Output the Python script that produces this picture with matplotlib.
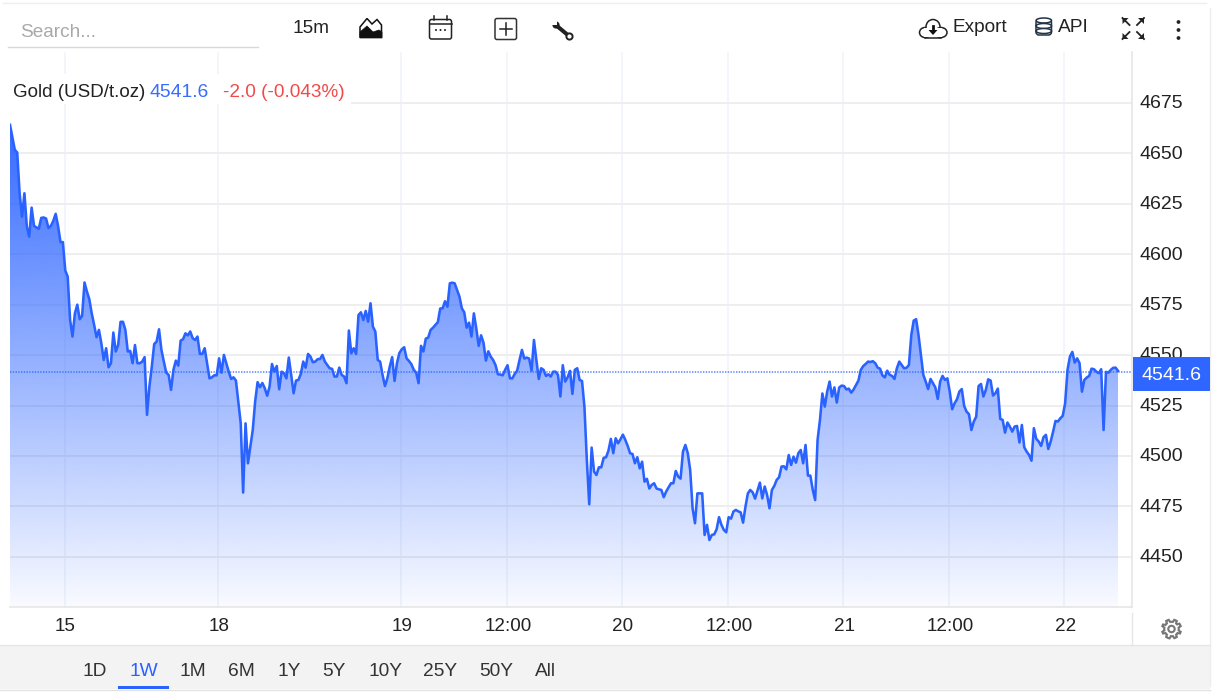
import numpy as np
import matplotlib
matplotlib.use("Agg")
import matplotlib.pyplot as plt
from matplotlib.patches import Rectangle, FancyBboxPatch, Circle, Ellipse, Polygon
from matplotlib.lines import Line2D
from matplotlib.transforms import ScaledTranslation

plt.rcParams['font.family'] = ['Liberation Sans', 'DejaVu Sans']

# ---- data -------------------------------------------------------------
prices = [
 4664.1,4658.0,4651.7,4650.4,4630.2,4618.6,4630.2,4613.7,4608.7,4623.1,
 4614.0,4613.3,4612.7,4618.0,4618.2,4617.7,4613.0,4614.0,4616.5,4620.0,
 4614.0,4606.0,4606.0,4591.9,4588.9,4567.4,4559.2,4570.7,4575.0,4567.8,
 4569.4,4586.0,4581.5,4577.7,4570.7,4565.0,4558.9,4562.5,4555.9,4547.6,
 4553.4,4544.0,4546.0,4561.2,4551.8,4555.0,4566.5,4566.5,4562.5,4551.8,
 4552.1,4546.0,4555.0,4546.0,4546.0,4546.8,4549.0,4520.4,4534.4,4544.3,
 4555.5,4556.7,4562.8,4552.6,4546.8,4541.3,4540.2,4532.8,4542.7,4547.3,
 4544.8,4557.2,4557.9,4560.8,4559.8,4561.7,4558.4,4557.5,4559.2,4550.6,
 4550.6,4553.4,4546.0,4538.5,4539.0,4540.0,4540.0,4548.4,4541.3,4550.1,
 4546.0,4541.8,4538.2,4539.0,4537.4,4527.0,4516.2,4481.9,4516.2,4496.4,
 4504.7,4512.9,4527.0,4536.6,4534.1,4536.2,4533.6,4529.9,4534.4,4545.6,
 4541.8,4544.6,4533.1,4541.8,4541.0,4538.5,4548.8,4540.2,4531.1,4537.4,
 4537.7,4540.7,4546.8,4543.8,4550.6,4549.3,4546.5,4546.8,4548.0,4548.1,
 4550.1,4546.8,4545.1,4543.5,4543.2,4539.4,4539.4,4543.8,4540.2,4539.4,
 4536.1,4562.2,4550.9,4553.4,4550.6,4569.9,4571.2,4567.4,4571.9,4566.6,
 4575.7,4564.1,4561.7,4547.6,4546.8,4540.2,4534.7,4538.5,4544.3,4549.0,
 4537.2,4546.0,4551.0,4552.9,4553.9,4548.4,4547.1,4545.5,4542.7,4541.3,
 4536.1,4554.6,4551.8,4558.2,4558.7,4562.5,4563.6,4565.0,4566.3,4573.1,
 4573.2,4576.7,4574.0,4585.6,4585.9,4585.6,4582.3,4579.0,4573.2,4571.2,
 4563.6,4566.1,4559.2,4570.7,4563.3,4554.6,4559.8,4556.2,4547.3,4551.9,
 4549.3,4547.6,4545.1,4540.5,4540.4,4540.0,4542.7,4545.0,4538.5,4538.5,
 4540.7,4542.3,4547.6,4552.6,4548.3,4548.8,4548.3,4542.3,4557.5,4547.6,
 4538.2,4543.5,4542.7,4539.7,4540.5,4539.4,4541.8,4541.8,4540.2,4529.5,
 4545.0,4536.9,4539.0,4542.2,4530.8,4542.7,4543.5,4537.7,4537.2,4524.5,
 4498.0,4476.1,4504.2,4492.3,4490.6,4494.4,4494.4,4499.1,4499.4,
 4502.7,4508.5,4501.4,4508.8,4506.3,4508.3,4510.6,4508.0,4505.0,4501.4,
 4501.0,4496.4,4499.4,4493.9,4497.2,4487.3,4488.7,4483.9,4485.7,4486.5,
 4483.9,4483.5,4483.2,4479.6,4482.4,4484.5,4486.5,4486.5,4492.6,4489.8,
 4488.8,4502.2,4505.5,4501.4,4493.1,4474.1,4466.7,4481.5,4481.5,4481.5,
 4460.9,4465.9,4458.4,4460.9,4461.2,4463.7,4469.7,4465.9,4463.4,4462.2,
 4469.7,4469.0,4472.5,4473.3,4472.6,4472.1,4467.0,4474.9,4481.5,4483.2,
 4482.0,4478.9,4482.9,4486.8,4479.0,4484.9,4480.7,4474.1,4483.2,4485.2,
 4488.2,4489.5,4494.8,4494.9,4493.4,4500.5,4495.6,4499.7,4496.7,4501.4,4503.0,
 4496.4,4505.5,4490.3,4490.3,4483.2,4478.2,4508.0,4517.9,4531.0,4524.5,
 4531.9,4536.9,4529.5,4534.0,4526.5,4534.0,4534.9,4534.7,4533.0,4533.4,
 4531.4,4533.0,4535.2,4537.4,4542.7,4544.6,4545.6,4546.8,4546.6,4547.0,
 4546.0,4543.8,4543.3,4539.9,4539.0,4542.3,4540.2,4539.7,4538.2,4543.5,
 4546.8,4545.1,4543.5,4543.7,4545.1,4560.0,4567.1,4567.8,4560.0,4550.1,
 4540.2,4536.9,4533.2,4538.2,4536.1,4534.0,4528.3,4536.9,4539.7,4537.7,
 4538.5,4531.9,4523.2,4526.1,4528.1,4531.9,4533.2,4524.8,4522.0,4520.7,
 4512.9,4517.1,4519.5,4534.7,4535.7,4529.5,4532.8,4538.0,4537.4,4530.0,
 4531.1,4533.4,4518.4,4517.9,4511.6,4516.6,4514.6,4512.1,4514.6,4514.9,
 4506.7,4515.4,4504.3,4502.2,4500.5,4497.7,4513.8,4508.5,4507.2,4505.0,
 4509.3,4510.5,4503.5,4507.2,4512.1,4517.4,4517.1,4518.7,4519.9,4526.1,
 4542.7,4549.3,4551.6,4546.3,4548.4,4546.0,4531.9,4537.7,4538.9,4539.7,
 4543.3,4543.0,4541.8,4541.0,4543.0,4512.9,4541.7,4541.3,4542.7,4543.7,
 4543.8,4542.2,
]
last_price = 4541.6
change_text = "-2.0 (-0.043%)"
y_ticks = [4450, 4475, 4500, 4525, 4550, 4575, 4600, 4625, 4650, 4675]
x_tick_bars = [22.7, 86.7, 162.7, 206.8, 254.6, 298.7, 346.6, 390.7, 438.7]
x_tick_labels = ["15", "18", "19", "12:00", "20", "12:00", "21", "12:00", "22"]
ranges = ["1D", "1W", "1M", "6M", "1Y", "5Y", "10Y", "25Y", "50Y", "All"]
range_x = [95, 144, 193, 241, 289, 334, 385, 440, 496, 545]

# ---- style ------------------------------------------------------------
W, H = 1212, 692
BLUE = "#2962ff"
GRID_H = "#eeeeee"
GRID_V = "#f2f6fa"
TXT = "#222222"
FS = 13.6

fig = plt.figure(figsize=(W / 100, H / 100), dpi=100, facecolor="white")

# chart axes: x 10..1132, y 52..607 pixels
L, R, T, B = 10, 1132, 52, 607
ax = fig.add_axes([L / W, 1 - B / H, (R - L) / W, (B - T) / H])
bars = np.arange(len(prices))
px_per_bar = 1108 / (len(prices) - 1)
xlim = (0, (R - L) / px_per_bar)
ylim = (4425.2, 4700.2)

ax.set_facecolor("white")
for s in ["top", "left"]:
    ax.spines[s].set_visible(False)
ax.spines["right"].set_color("#e6e6e6")
ax.spines["bottom"].set_color("#e6e6e6")
ax.spines["right"].set_linewidth(1.2)
ax.spines["bottom"].set_linewidth(1.2)

ax.yaxis.tick_right()
ax.set_yticks(y_ticks)
ax.set_yticklabels([str(v) for v in y_ticks], fontsize=14.0, color=TXT)
ax.tick_params(axis="y", length=0, pad=5.2)
ax.set_xticks(x_tick_bars)
ax.set_xticklabels(x_tick_labels, fontsize=13.6, color=TXT)
ax.tick_params(axis="x", length=0, pad=8.2)
up1 = ScaledTranslation(0, 1.2 / 100, fig.dpi_scale_trans)
right1 = ScaledTranslation(1.0 / 100, 0, fig.dpi_scale_trans)
for lab in ax.get_yticklabels():
    lab.set_transform(lab.get_transform() + up1)
for lab in ax.get_xticklabels():
    lab.set_transform(lab.get_transform() + right1)

ax.grid(True, axis="y", color=GRID_H, lw=1.4, zorder=0)
ax.grid(True, axis="x", color=GRID_V, lw=1.4, zorder=0)
ax.set_axisbelow(True)

# gradient area under the line
poly = ax.fill_between(bars, prices, ylim[0], color="none", lw=0)
rgb = matplotlib.colors.to_rgb(BLUE)
grad = np.zeros((256, 1, 4))
grad[..., 0], grad[..., 1], grad[..., 2] = rgb
grad[:, 0, 3] = np.linspace(0.95, 0.03, 256)
im = ax.imshow(grad, extent=(xlim[0], xlim[1], ylim[0], max(prices)),
               aspect="auto", origin="upper", zorder=2, interpolation="bilinear")
im.set_clip_path(poly.get_paths()[0], transform=ax.transData)

ax.plot(bars, prices, color=BLUE, lw=1.85, zorder=3, solid_joinstyle="round")
ax.axhline(last_price, color=BLUE, lw=1.1, ls=(0, (0.9, 0.9)), alpha=0.8, zorder=3)
ax.set_xlim(*xlim)
ax.set_ylim(*ylim)

# chrome overlay in pixel coordinates
ov = fig.add_axes([0, 0, 1, 1], facecolor="none")
ov.set_xlim(0, W)
ov.set_ylim(H, 0)
ov.axis("off")

def line(xs, ys, c="#222222", lw=1.1, **k):
    ov.add_line(Line2D(xs, ys, color=c, lw=lw, **k))

def txt(x, y, s, c=TXT, ha="left", fs=FS, **k):
    ov.text(x, y, s, color=c, ha=ha, va="center", fontsize=fs, **k)

def box(x0, y0, x1, y1, fc="white", ec="none", lw=1, r=0, z=2):
    if r:
        ov.add_patch(FancyBboxPatch((x0, y0), x1 - x0, y1 - y0,
                     boxstyle=f"round,pad=0,rounding_size={r}", fc=fc, ec=ec, lw=lw, zorder=z))
    else:
        ov.add_patch(Rectangle((x0, y0), x1 - x0, y1 - y0, fc=fc, ec=ec, lw=lw, zorder=z))

# card edge and footer
line([3, 1206], [2.5, 2.5], "#eeeeee", 1.0)
line([1210, 1210], [8, 686], "#eeeeee", 1.0)
box(0, 645, 1210, 689, fc="#f3f3f3", z=1)
line([0, 1210], [645, 645], "#e6e6e6", 1.0)
line([0, 1210], [689.5, 689.5], "#e2e2e2", 1.0)
line([1132, 1132], [613, 645], "#e6e6e6", 1.0)

# search
txt(20, 32.5, "Search...", c="#a9a9a9", fs=13.7)
line([8, 258], [47, 47], "#d9d9d9", 1.0)
txt(292, 28.5, "15m", fs=13.7)

# mountain icon
ov.add_patch(Polygon([(360, 37), (360, 27), (367, 18.5), (372, 24), (377, 19.5), (381.5, 25), (381.5, 37)],
                     fc="white", ec="#111111", lw=1.1, zorder=3))
ov.add_patch(Polygon([(360, 38), (360, 32), (367, 26), (373, 32), (379, 30), (382, 32), (382, 38)],
                     fc="#111111", ec="#111111", lw=0.5, zorder=4))
# calendar icon
box(429.5, 19.5, 451.5, 39, fc="white", ec="#222222", lw=1.1, r=2)
line([429.5, 451.5], [24, 24])
line([434, 434], [15.5, 19.5]); line([447, 447], [15.5, 19.5])
for cx in (436, 440.5, 445):
    ov.add_patch(Circle((cx, 30), 1.0, fc="#222222", ec="none", zorder=4))
# add box
box(495, 18.5, 516.5, 39.5, fc="white", ec="#333333", lw=1.1, r=2)
line([499.5, 512], [29, 29]); line([505.7, 505.7], [23, 35])
# wrench: open jaw top-left, ring bottom-right
line([557, 569], [26, 36], "#222222", 2.9, solid_capstyle="round")
ov.add_patch(Circle((556, 25), 3.6, fc="#222222", ec="none", zorder=4))
ov.add_patch(Polygon([(552, 20.5), (556.5, 20.5), (556.5, 25), (552, 25)], fc="white", ec="none", zorder=5))
ov.add_patch(Circle((569.5, 36.5), 3.1, fc="white", ec="#222222", lw=1.4, zorder=5))

# export
for c in [(925, 32.5, 11, 10), (933, 27, 14, 15), (941, 32.5, 12, 10)]:
    ov.add_patch(Ellipse(c[:2], c[2], c[3], fc="white", ec="#222222", lw=1.1, zorder=3))
box(924, 28, 942, 37, fc="white", z=4)
line([925, 941], [37.5, 37.5], "#222222", 1.1, zorder=5)
ov.add_patch(Polygon([(928.5, 30), (937.5, 30), (933, 35)], fc="#111111", ec="none", zorder=5))
line([933, 933], [26, 31], "#111111", 2.0, zorder=5)
txt(952, 28, "Export", fs=13.7)
# database
box(1036, 20, 1051.5, 35, fc="white", ec="#223344", lw=1.1, r=3, z=3)
for yy in (20.5, 26, 31):
    ov.add_patch(Ellipse((1043.8, yy), 15.5, 5, fc="white", ec="#223344", lw=1.1, zorder=4))
txt(1058, 28, "API", fs=13.8)
# fullscreen
for (x0, y0, dx, dy) in [(1122.5, 18, 1, 1), (1144, 18, -1, 1), (1122.5, 39, 1, -1), (1144, 39, -1, -1)]:
    line([x0, x0 + 7 * dx], [y0, y0 + 7 * dy], "#222222", 1.3)
    ov.add_patch(Polygon([(x0, y0), (x0 + 6 * dx, y0), (x0, y0 + 6 * dy)], fc="#222222", ec="none", zorder=4))
# dots
for yy in (22, 30, 38):
    ov.add_patch(Circle((1178.5, yy), 1.9, fc="#222222", ec="none", zorder=4))

# legend box
box(8, 74, 351, 104, fc="white", z=2)
txt(13, 92.5, "Gold (USD/t.oz)", zorder=5, fs=13.5)
txt(150, 92.5, f"{last_price}", c="#3a6cff", zorder=5, fs=13.9)
txt(223, 92.5, change_text, c="#f04a4a", zorder=5, fs=13.65)

# price tag
box(1133, 357, 1209.5, 391, fc="#2f66ff", z=5)
ov.text(1171, 375, f"{last_price}", color="white", ha="center", va="center", fontsize=14.0, zorder=6)

# gear outline
ang = np.linspace(0, 2 * np.pi, 64, endpoint=False) + np.pi / 8
rad = np.where(((ang - np.pi / 8) / (2 * np.pi) * 8 + 0.25) % 1 < 0.5, 9.6, 7.2)
ov.add_patch(Polygon(np.c_[1171.5 + rad * np.cos(ang), 629 + rad * np.sin(ang)],
                     fc="white", ec="#777777", lw=1.5, zorder=3))
ov.add_patch(Circle((1171.5, 629), 3.2, fc="white", ec="#777777", lw=1.5, zorder=4))

# range selector
for s, x in zip(ranges, range_x):
    txt(x, 671, s, c=BLUE if s == "1W" else "#333333", ha="center", fs=13.8)
box(118, 686, 169, 688.5, fc=BLUE, z=3)

fig.savefig("out.png", dpi=100, facecolor="white")
